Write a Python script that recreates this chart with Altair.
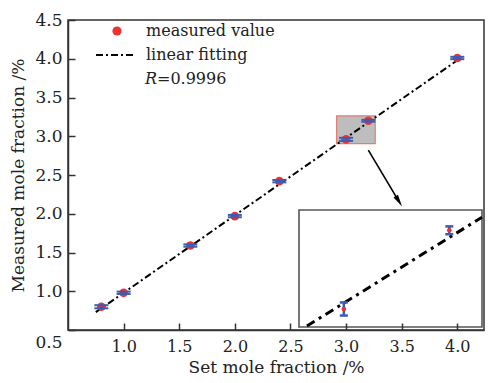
import altair as alt
import pandas as pd

# ---- data ----
set_frac = [0.8, 1.0, 1.6, 2.0, 2.4, 3.0, 3.2, 4.0]
measured = [0.80, 0.98, 1.59, 1.97, 2.42, 2.96, 3.20, 4.01]
errors = [0.02, 0.015, 0.015, 0.015, 0.015, 0.02, 0.012, 0.015]
fit_x = [0.75, 4.02]
fit_y = [0.73, 4.00]
inset_fit_x = [2.93, 3.262]
inset_fit_y = [2.908, 3.240]
zoom_x = [2.915, 3.262]
zoom_y = [2.905, 3.262]
arrow_x = [3.20, 3.475]
arrow_y = [2.82, 2.16]
x_ticks = [1.0, 1.5, 2.0, 2.5, 3.0, 3.5, 4.0]
y_ticks = [0.5, 1.0, 1.5, 2.0, 2.5, 3.0, 3.5, 4.0, 4.5]

W, H = 416, 310
RED = "#ec3232"
BLUE = "#3a5cb4"
FONT = "DejaVu Serif"
TXT = "#222222"
CAP = "M-1,0L1,0"

pts = pd.DataFrame({"x": set_frac, "y": measured, "err": errors})
pts["lo"] = pts["y"] - pts["err"]
pts["hi"] = pts["y"] + pts["err"]
fit = pd.DataFrame({"x": fit_x, "y": fit_y})
inset_fit = pd.DataFrame({"x": inset_fit_x, "y": inset_fit_y})
zoom_box = pd.DataFrame({"x": [zoom_x[0]], "x2": [zoom_x[1]], "y": [zoom_y[0]], "y2": [zoom_y[1]]})
arrow_line = pd.DataFrame({"x": [arrow_x[0]], "x2": [arrow_x[1]], "y": [arrow_y[0]], "y2": [arrow_y[1]]})
arrow_head = pd.DataFrame({"x": [arrow_x[1]], "y": [arrow_y[1]]})

xs = alt.Scale(domain=[0.5, 4.24], nice=False, zero=False)
ys = alt.Scale(domain=[0.5, 4.5], nice=False, zero=False)
common = dict(labelFont=FONT, labelColor=TXT, titleFont=FONT, titleFontSize=17,
              titleFontWeight="normal", titleColor=TXT, domainColor="#333333", domainWidth=1.5,
              tickColor="#333333", tickWidth=1.5, grid=False, zindex=1, format=".1f")
x_axis = alt.Axis(values=x_ticks, title="Set mole fraction /%", labelFontSize=16,
                  tickSize={"expr": "-7"}, labelPadding=15, titlePadding=5, **common)
y_axis = alt.Axis(values=y_ticks, title="Measured mole fraction /%", labelFontSize=17,
                  tickSize={"expr": "-7"}, labelPadding=13,
                  labelOffset={"condition": {"test": "datum.value == 0.5", "value": 12}, "value": 0},
                  titlePadding=7, **common)


def X(f="x"):
    return alt.X(f"{f}:Q", scale=xs, axis=x_axis)


def Y(f="y"):
    return alt.Y(f"{f}:Q", scale=ys, axis=y_axis)


fit_line = alt.Chart(fit).mark_line(color="black", strokeWidth=2, strokeDash=[7, 3, 2, 3]).encode(x=X(), y=Y())
err_rule = alt.Chart(pts).mark_rule(color=BLUE, strokeWidth=2).encode(x=X(), y=Y("lo"), y2="hi:Q")
dots = alt.Chart(pts).mark_circle(color=RED, size=75, opacity=1).encode(x=X(), y=Y())
cap_lo = alt.Chart(pts).mark_point(shape=CAP, size=196, stroke=BLUE, strokeWidth=2, opacity=1).encode(
    x=X(), y=Y("lo"))
cap_hi = alt.Chart(pts).mark_point(shape=CAP, size=196, stroke=BLUE, strokeWidth=2, opacity=1).encode(
    x=X(), y=Y("hi"))
zoom_rect = alt.Chart(zoom_box).mark_rect(fill="#bdbdbd", stroke="#e57b6e", strokeWidth=1.2).encode(
    x=X(), x2="x2:Q", y=Y(), y2="y2:Q")
arr = alt.Chart(arrow_line).mark_rule(color="black", strokeWidth=1.6).encode(x=X(), x2="x2:Q", y=Y(), y2="y2:Q")
arr_head = alt.Chart(arrow_head).mark_point(
    shape="M0,-1L0.42,1L-0.42,1Z", filled=True, color="black", opacity=1, size=150, angle=149
).encode(x=X(), y=Y())

# legend
leg_dot = alt.Chart(pd.DataFrame({"a": [0]})).mark_circle(color=RED, size=85, opacity=1).encode(
    x=alt.value(49), y=alt.value(11))
leg_line = alt.Chart(pd.DataFrame({"a": [0]})).mark_rule(color="black", strokeWidth=2, strokeDash=[7, 3, 2, 3]).encode(
    x=alt.value(28), x2=alt.value(68), y=alt.value(35))
leg_txt = alt.Chart(pd.DataFrame({"t": ["measured value", "linear fitting"], "yy": [11, 35]})).mark_text(
    font=FONT, fontSize=16, color=TXT, align="left", baseline="middle").encode(
    x=alt.value(78), y=alt.Y("yy:Q", scale=None), text="t:N")
leg_r = alt.Chart(pd.DataFrame({"a": [0]})).mark_text(
    text="R", font=FONT, fontSize=16, fontStyle="italic", color=TXT, align="left", baseline="middle").encode(
    x=alt.value(77), y=alt.value(59))
leg_val = alt.Chart(pd.DataFrame({"a": [0]})).mark_text(
    text="=0.9996", font=FONT, fontSize=16, color=TXT, align="left", baseline="middle").encode(
    x=alt.value(89), y=alt.value(59))

main = alt.layer(zoom_rect, fit_line, dots, err_rule, cap_lo, cap_hi, arr, arr_head,
                 leg_dot, leg_line, leg_txt, leg_r, leg_val)

# inset (zoom of the grey box)
ixs = alt.Scale(domain=zoom_x, range=[231, 414], nice=False, zero=False)
iys = alt.Scale(domain=zoom_y, range=[307, 190], nice=False, zero=False)


def IX(f="x"):
    return alt.X(f"{f}:Q", scale=ixs, axis=None)


def IY(f="y"):
    return alt.Y(f"{f}:Q", scale=iys, axis=None)


inset_frame = alt.Chart(zoom_box).mark_rect(fill="white", stroke="#555555", strokeWidth=1.6).encode(
    x=IX(), x2="x2:Q", y=IY(), y2="y2:Q")
inset_line = alt.Chart(inset_fit).mark_line(color="black", strokeWidth=3, strokeDash=[9, 5, 3, 5]).encode(
    x=IX(), y=IY())
in_pts = pts[(pts.x >= zoom_x[0]) & (pts.x <= zoom_x[1])]
inset_err = alt.Chart(in_pts).mark_rule(color=BLUE, strokeWidth=2.5).encode(x=IX(), y=IY("lo"), y2="hi:Q")
inset_cap_lo = alt.Chart(in_pts).mark_point(shape=CAP, size=64, stroke=BLUE, strokeWidth=2.5, opacity=1).encode(
    x=IX(), y=IY("lo"))
inset_cap_hi = alt.Chart(in_pts).mark_point(shape=CAP, size=64, stroke=BLUE, strokeWidth=2.5, opacity=1).encode(
    x=IX(), y=IY("hi"))
inset_dot = alt.Chart(in_pts).mark_circle(color=RED, size=22, opacity=1).encode(x=IX(), y=IY())

inset = alt.layer(inset_frame, inset_line, inset_err, inset_cap_lo, inset_cap_hi, inset_dot)

chart = alt.layer(main, inset).resolve_scale(x="independent", y="independent").properties(
    width=W, height=H,
    autosize=alt.AutoSizeParams(type="none"),
    padding={"left": 60, "top": 12, "right": 1, "bottom": 45},
).configure_view(stroke="#333333", strokeWidth=1.5)

chart.save("out.html", embed_options={"renderer": "svg", "actions": False})
